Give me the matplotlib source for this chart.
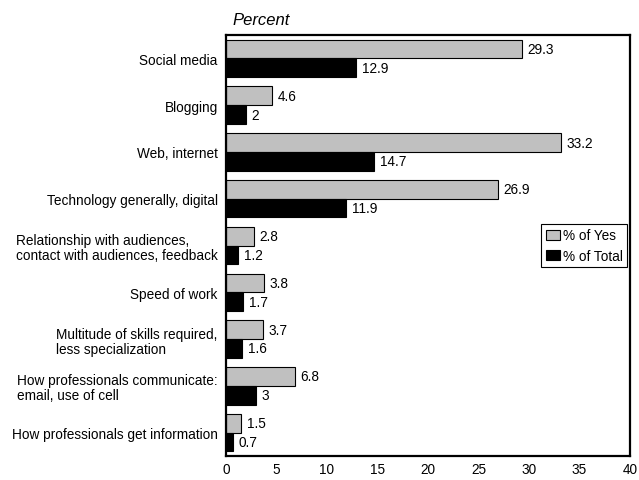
import matplotlib
matplotlib.use("Agg")
import matplotlib.pyplot as plt
import numpy as np

plt.rcParams["font.family"] = ["Liberation Sans", "DejaVu Sans"]
plt.rcParams["font.size"] = 9.8

categories = ["Social media", "Blogging", "Web, internet",
              "Technology generally, digital",
              "Relationship with audiences,\ncontact with audiences, feedback",
              "Speed of work",
              "Multitude of skills required,\nless specialization",
              "How professionals communicate:\nemail, use of cell",
              "How professionals get information"]
pct_yes = [29.3, 4.6, 33.2, 26.9, 2.8, 3.8, 3.7, 6.8, 1.5]
pct_total = [12.9, 2, 14.7, 11.9, 1.2, 1.7, 1.6, 3, 0.7]
value_labels_yes = ["29.3", "4.6", "33.2", "26.9", "2.8", "3.8", "3.7", "6.8", "1.5"]
value_labels_total = ["12.9", "2", "14.7", "11.9", "1.2", "1.7", "1.6", "3", "0.7"]

fig = plt.figure(figsize=(6.39, 4.81), dpi=100)
# axes box: x 226..630, y 36..457 px
ax = fig.add_axes([226 / 639, 1 - 457 / 481, 404 / 639, 421 / 481])

ys = np.arange(len(categories))
bar_h = 0.4
bars_yes = ax.barh(ys - bar_h / 2, pct_yes, bar_h, color="#c0c0c0",
                   edgecolor="black", linewidth=0.8, label="% of Yes")
bars_total = ax.barh(ys + bar_h / 2, pct_total, bar_h, color="black",
                     edgecolor="black", linewidth=0.8, label="% of Total")

for b, lab in zip(bars_yes, value_labels_yes):
    ax.annotate(lab, (b.get_width(), b.get_y() + b.get_height() / 2),
                xytext=(4, 0), textcoords="offset points", va="center")
for b, lab in zip(bars_total, value_labels_total):
    ax.annotate(lab, (b.get_width(), b.get_y() + b.get_height() / 2),
                xytext=(4, 0), textcoords="offset points", va="center")

ax.set_ylim(len(categories) - 0.5, -0.5)
ax.set_xlim(0, 40)
ax.set_xticks(np.arange(0, 41, 5))
ax.set_yticks(ys)
ax.set_yticklabels(categories, ha="right")
for t in ax.get_yticklabels():
    t.set_multialignment("left")
    t.set_linespacing(1.1)
ax.tick_params(length=0, pad=6)
ax.tick_params(axis="x", pad=4)
for s in ax.spines.values():
    s.set_linewidth(1.6)

ax.text(0.015, 1.018, "Percent", transform=ax.transAxes, fontsize=12,
        style="italic", ha="left", va="bottom")

ax.legend(loc="center right", bbox_to_anchor=(0.993, 0.5), fancybox=False,
          edgecolor="black", framealpha=1, handlelength=1.1, handleheight=0.8,
          handletextpad=0.2, borderpad=0.3, labelspacing=0.45,
          borderaxespad=0.0)
leg = ax.get_legend()
leg.get_frame().set_linewidth(0.8)

fig.savefig("out.png", dpi=100)
